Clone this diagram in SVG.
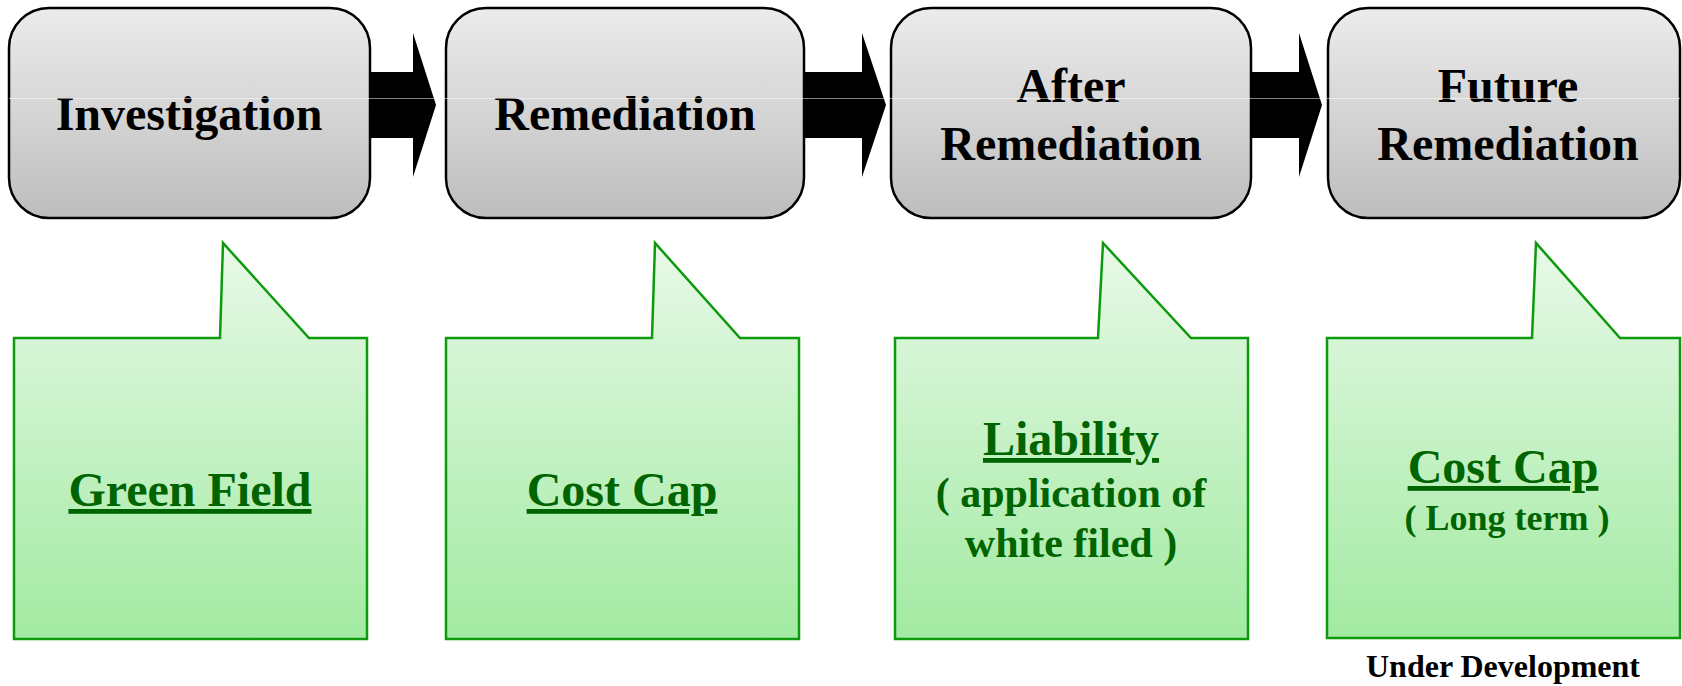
<svg xmlns="http://www.w3.org/2000/svg" width="1682" height="686" viewBox="0 0 1682 686">
<defs>
<linearGradient id="gBox" x1="0" y1="0" x2="0" y2="1">
<stop offset="0" stop-color="#ececec"/>
<stop offset="1" stop-color="#bdbdbd"/>
</linearGradient>
<linearGradient id="gCall" gradientUnits="userSpaceOnUse" x1="0" y1="243" x2="0" y2="639">
<stop offset="0" stop-color="#e8f9e8"/>
<stop offset="1" stop-color="#a2eaa2"/>
</linearGradient>
<style>
.box{fill:url(#gBox);stroke:#000;stroke-width:2.5}
.call{fill:url(#gCall);stroke:#0d9a0d;stroke-width:2.5;stroke-linejoin:miter}
.arrow{fill:#000}
.t{font-family:"Liberation Serif","Times New Roman",serif;font-weight:bold;fill:#000;text-anchor:middle;font-size:48px}
.g{font-family:"Liberation Serif","Times New Roman",serif;font-weight:bold;fill:#006400;text-anchor:middle}
.u{text-decoration:underline;font-size:48px}
.s{font-size:42px}
.s2{font-size:36px}
</style>
</defs>
<g id="connectors">
<polygon class="arrow" points="370,72 413,72 413,33 436,105 413,177 413,138 370,138"/>
<polygon class="arrow" points="804,72 862,72 862,33 886,105 862,177 862,138 804,138"/>
<polygon class="arrow" points="1251,72 1299,72 1299,33 1322,105 1299,177 1299,138 1251,138"/>
</g>
<g id="node-investigation">
<rect class="box" x="9" y="8" width="361" height="210" rx="40" ry="40"/>
<text class="t" x="189" y="130">Investigation</text>
</g>
<g id="node-remediation">
<rect class="box" x="446" y="8" width="358" height="210" rx="40" ry="40"/>
<text class="t" x="625" y="130">Remediation</text>
</g>
<g id="node-after">
<rect class="box" x="891" y="8" width="360" height="210" rx="40" ry="40"/>
<text class="t" x="1071" y="102">After</text>
<text class="t" x="1071" y="160">Remediation</text>
</g>
<g id="node-future">
<rect class="box" x="1328" y="8" width="352" height="210" rx="40" ry="40"/>
<text class="t" x="1508" y="102">Future</text>
<text class="t" x="1508" y="160">Remediation</text>
</g>
<line x1="9" y1="98.5" x2="1680" y2="98.5" stroke="#ffffff" stroke-opacity="0.5" stroke-width="1"/>
<g id="callout-green-field">
<path class="call" d="M14,338 H220 L223,243 L309,338 H367 V639 H14 Z"/>
<text class="g u" x="190" y="506">Green Field</text>
</g>
<g id="callout-cost-cap">
<path class="call" d="M446,338 H652 L655,243 L740,338 H799 V639 H446 Z"/>
<text class="g u" x="622" y="506">Cost Cap</text>
</g>
<g id="callout-liability">
<path class="call" d="M895,338 H1098 L1103,243 L1191,338 H1248 V639 H895 Z"/>
<text class="g u" x="1071" y="455">Liability</text>
<text class="g s" x="1071" y="507">( application of</text>
<text class="g s" x="1071" y="557">white filed )</text>
</g>
<g id="callout-cost-cap-long">
<path class="call" d="M1327,338 H1532 L1536,243 L1620,338 H1680 V638 H1327 Z"/>
<text class="g u" x="1503" y="483">Cost Cap</text>
<text class="g s2" x="1507" y="530">( Long term )</text>
</g>
<g id="label-under-development">
<text class="t" x="1503" y="677" style="font-size:32px">Under Development</text>
</g>
</svg>
